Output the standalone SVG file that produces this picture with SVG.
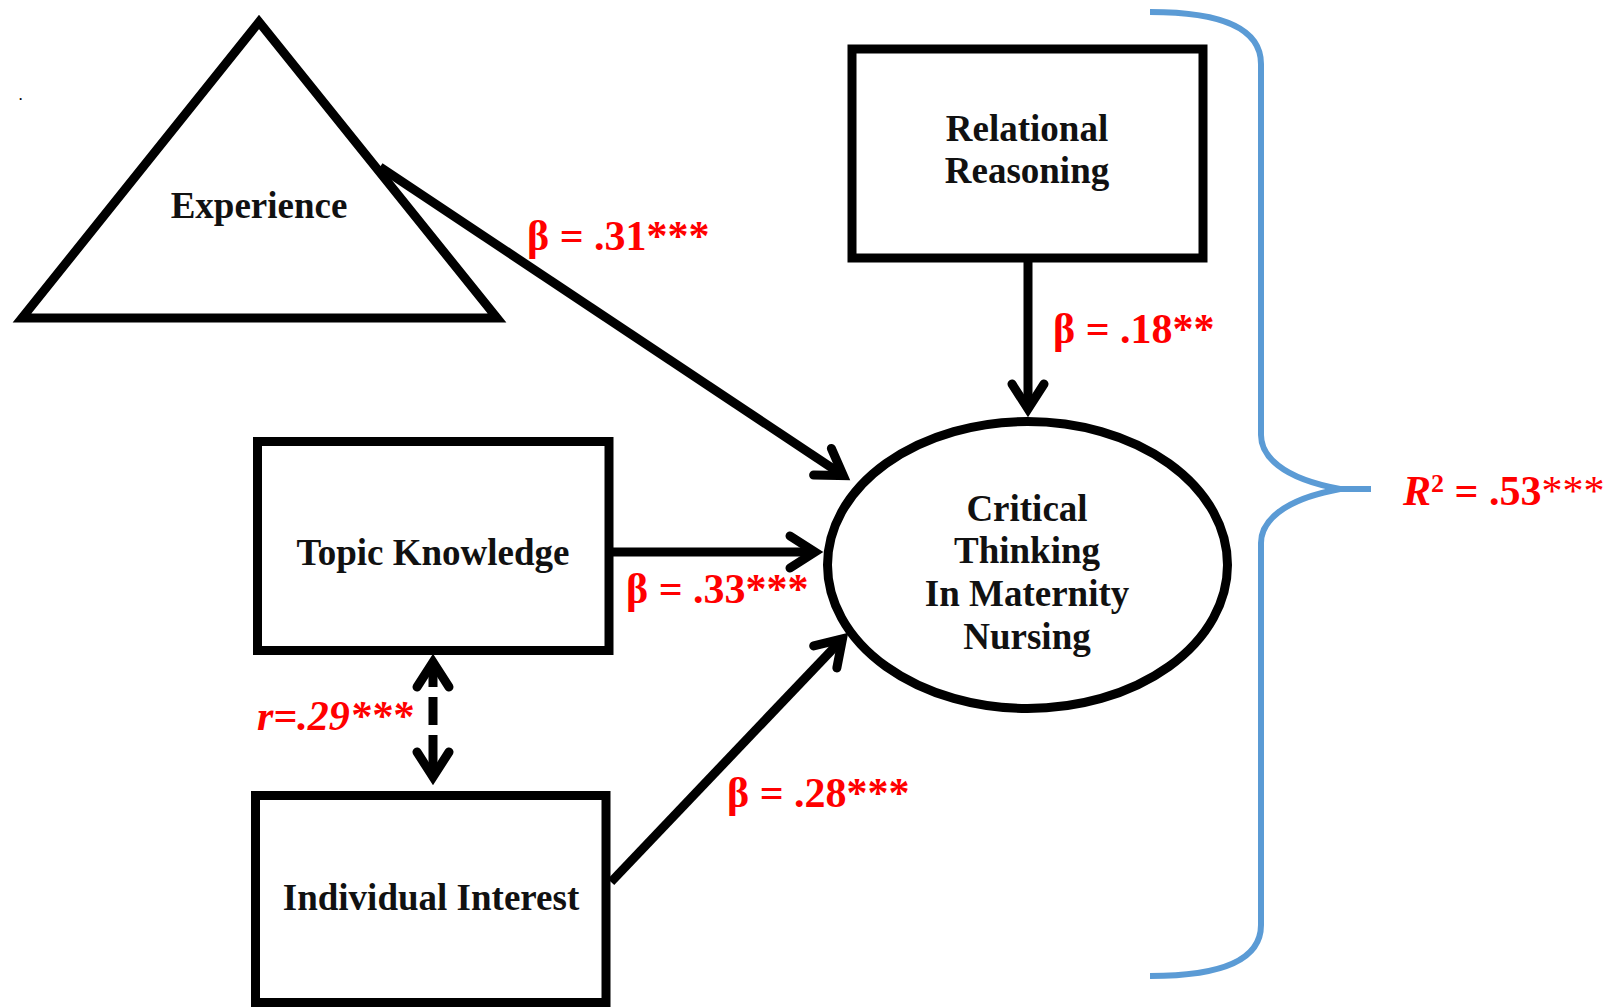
<svg xmlns="http://www.w3.org/2000/svg" width="1613" height="1007" viewBox="0 0 1613 1007">
  <style>
    .shape { fill: #ffffff; stroke: #000000; stroke-width: 9; }
    .node { font-family: "Liberation Serif", "Times New Roman", serif; font-weight: bold; font-size: 37px; fill: #111111; text-anchor: middle; }
    .lab { font-family: "Liberation Serif", "Times New Roman", serif; font-weight: bold; font-size: 42px; fill: #ff0000; }
    .conn { fill: none; stroke: #000000; stroke-width: 9; }
    .brace { fill: none; stroke: #5b9bd5; stroke-width: 6; stroke-linejoin: round; }
  </style>
  <defs>
    <marker id="arr" markerUnits="userSpaceOnUse" orient="auto-start-reverse" refX="0" refY="0" markerWidth="60" markerHeight="60" viewBox="-40 -30 60 60" overflow="visible">
      <path d="M-25,-16 L0,0 L-25,16" fill="none" stroke="#000000" stroke-width="9" stroke-linecap="round" stroke-linejoin="miter"/>
    </marker>
  </defs>
  <rect width="1613" height="1007" fill="#ffffff"/>
  <text x="18.5" y="99.5" font-family="Liberation Serif, serif" font-size="17" fill="#000000">.</text>

  <g id="node-experience">
    <polygon class="shape" points="259,22 22,318 497,318"/>
    <text class="node" x="259" y="218">Experience</text>
  </g>
  <g id="node-relational">
    <rect class="shape" x="852" y="49" width="351" height="209"/>
    <text class="node" x="1027" y="141">Relational</text>
    <text class="node" x="1027" y="183">Reasoning</text>
  </g>
  <g id="node-topic">
    <rect class="shape" x="257.5" y="441.5" width="351.5" height="209"/>
    <text class="node" x="433" y="565">Topic Knowledge</text>
  </g>
  <g id="node-interest">
    <rect class="shape" x="255.5" y="795.5" width="350.5" height="207"/>
    <text class="node" x="431" y="910">Individual Interest</text>
  </g>
  <g id="node-critical">
    <ellipse class="shape" cx="1027.5" cy="565" rx="200" ry="143.5"/>
    <text class="node" x="1027" y="521">Critical</text>
    <text class="node" x="1027" y="563">Thinking</text>
    <text class="node" x="1027" y="606">In Maternity</text>
    <text class="node" x="1027" y="649">Nursing</text>
  </g>

  <g id="connectors">
    <line class="conn" x1="380" y1="167" x2="843.3" y2="475.6" marker-end="url(#arr)"/>
    <line class="conn" x1="1028" y1="262" x2="1028" y2="409" marker-end="url(#arr)"/>
    <line class="conn" x1="613" y1="552" x2="815" y2="552" marker-end="url(#arr)"/>
    <line class="conn" x1="611" y1="882" x2="842.5" y2="638.8" marker-end="url(#arr)"/>
    <line class="conn" x1="433" y1="662" x2="433" y2="777" stroke-width="8" stroke-dasharray="25 10 28 10 60" marker-start="url(#arr)" marker-end="url(#arr)"/>
    <path class="brace" d="M1150,12 C1225,12 1261,30 1261,64 L1261,435 C1261,455 1280,478 1340,489 L1371,489 M1340,489 C1280,500 1261,523 1261,543 L1261,925 C1261,958 1225,976 1150,976"/>
  </g>

  <g id="labels">
    <text class="lab" x="527" y="250">β = .31***</text>
    <text class="lab" x="1053" y="343">β = .18**</text>
    <text class="lab" x="626" y="603">β = .33***</text>
    <text class="lab" x="727" y="807">β = .28***</text>
    <text class="lab" x="257" y="730" font-style="italic">r=.29***</text>
    <text class="lab" x="1403" y="505"><tspan font-style="italic">R</tspan><tspan font-size="26" dy="-13">2</tspan><tspan dy="13"> = .53</tspan><tspan font-weight="normal">***</tspan></text>
  </g>
</svg>
